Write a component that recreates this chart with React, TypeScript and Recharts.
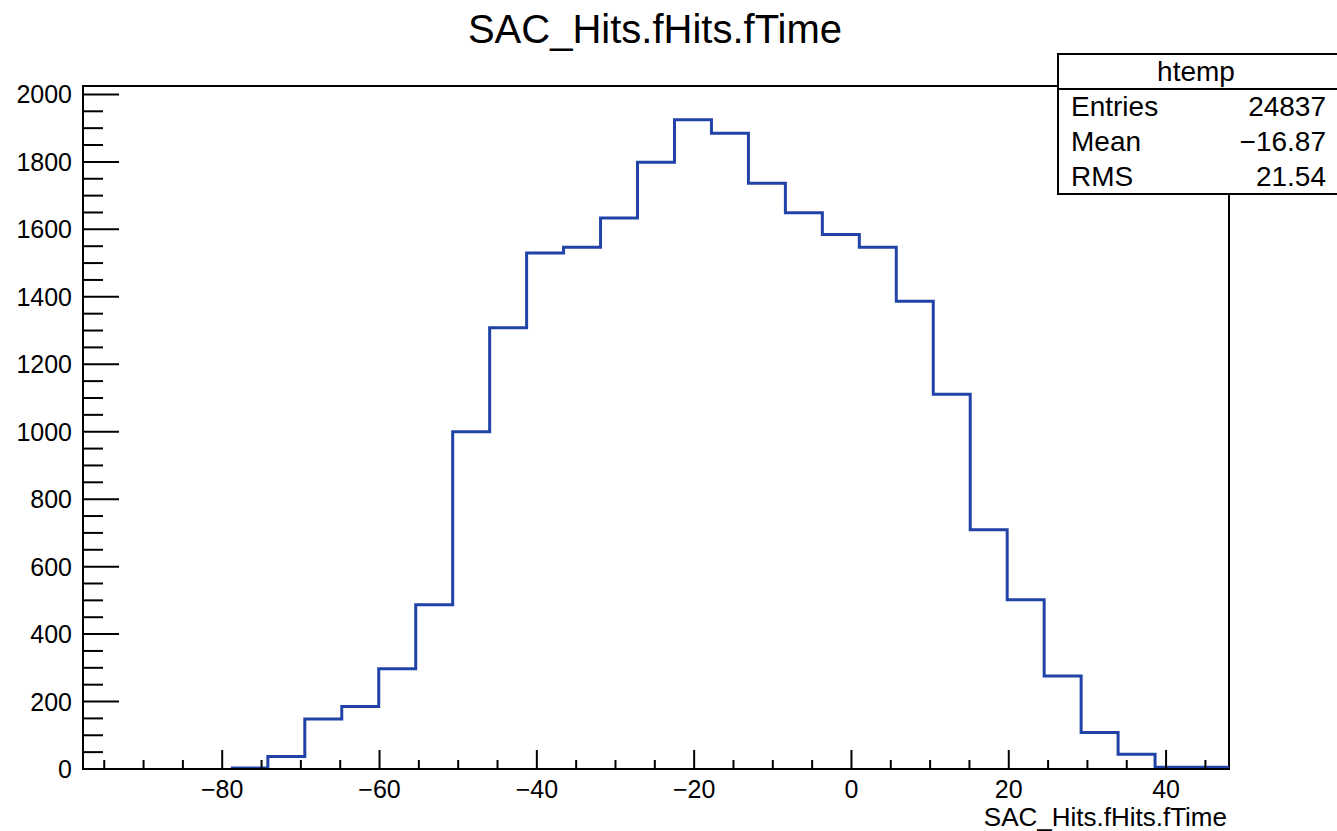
import React from 'react';
import { LineChart, Line, XAxis, YAxis, ReferenceArea } from 'recharts';

// histogram bins (lower edges + final upper edge)
const binEdges = [
  -78.9, -74.2, -69.5, -64.8, -60.1, -55.4, -50.7, -46.0, -41.3, -36.6, -31.9, -27.2, -22.5, -17.8,
  -13.1, -8.4, -3.7, 1.0, 5.7, 10.4, 15.1, 19.8, 24.5, 29.2, 33.9, 38.6, 43.3, 48.0,
];
const binCounts = [
  3, 37, 148, 185, 297, 487, 1000, 1308, 1530, 1547, 1634, 1799, 1925, 1885, 1737, 1649, 1585, 1547,
  1387, 1111, 709, 502, 276, 108, 44, 5, 5,
];

const xTicks = [
  -95, -90, -85, -80, -75, -70, -65, -60, -55, -50, -45, -40, -35, -30, -25, -20, -15, -10, -5, 0, 5,
  10, 15, 20, 25, 30, 35, 40, 45,
];
const yTicks = [
  0, 50, 100, 150, 200, 250, 300, 350, 400, 450, 500, 550, 600, 650, 700, 750, 800, 850, 900, 950,
  1000, 1050, 1100, 1150, 1200, 1250, 1300, 1350, 1400, 1450, 1500, 1550, 1600, 1650, 1700, 1750,
  1800, 1850, 1900, 1950, 2000,
];

const statLabels = ['Entries', 'Mean', 'RMS'];
const statValues = ['24837', '\u221216.87', '21.54'];

const title = 'SAC_Hits.fHits.fTime';
const histName = 'htemp';

const X_MIN = -97.7;
const X_MAX = 48;
const Y_MAX = 2025;

const FONT = '"Liberation Sans", Arial, Helvetica, sans-serif';

const data = binEdges.map((x, i) => ({
  x,
  count: binCounts[Math.min(i, binCounts.length - 1)],
}));

const fmt = (v: number) => (v < 0 ? `\u2212${Math.abs(v)}` : String(v));

const XTick = (props: any) => {
  const { x, y, payload } = props;
  const v = payload.value;
  const major = v % 20 === 0;
  return (
    <g>
      <line x1={x} x2={x} y1={y} y2={y - (major ? 19 : 9)} stroke="#000" strokeWidth={2} />
      {major && (
        <text x={x} y={y + 29} textAnchor="middle" fontSize={25} fontFamily={FONT} fill="#000">
          {fmt(v)}
        </text>
      )}
    </g>
  );
};

const YTick = (props: any) => {
  const { x, y, payload } = props;
  const v = payload.value;
  const major = v % 200 === 0;
  return (
    <g>
      <line x1={x} x2={x + (major ? 36 : 20)} y1={y} y2={y} stroke="#000" strokeWidth={2} />
      {major && (
        <text x={x - 11} y={y + 9} textAnchor="end" fontSize={25} fontFamily={FONT} fill="#000">
          {v}
        </text>
      )}
    </g>
  );
};

export default function App() {
  return (
    <div style={{ position: 'relative', width: 1337, height: 831, overflow: 'hidden', background: '#fff' }}>
      <style>{'body{margin:0}'}</style>
      <LineChart
        width={1337}
        height={831}
        data={data}
        margin={{ top: 86, right: 108, bottom: 0, left: 0 }}
      >
        <XAxis
          dataKey="x"
          type="number"
          domain={[X_MIN, X_MAX]}
          allowDataOverflow
          ticks={xTicks}
          interval={0}
          height={62}
          tickSize={0}
          tickMargin={0}
          tickLine={false}
          axisLine={{ stroke: '#000', strokeWidth: 2 }}
          tick={<XTick />}
        />
        <YAxis
          type="number"
          domain={[0, Y_MAX]}
          allowDataOverflow
          ticks={yTicks}
          interval={0}
          width={83}
          tickSize={0}
          tickMargin={0}
          tickLine={false}
          axisLine={{ stroke: '#000', strokeWidth: 2 }}
          tick={<YTick />}
        />
        <ReferenceArea
          x1={X_MIN}
          x2={X_MAX}
          y1={0}
          y2={Y_MAX}
          fill="none"
          fillOpacity={0}
          stroke="#000"
          strokeWidth={2}
        />
        <Line
          type="stepAfter"
          dataKey="count"
          stroke="#2143a8"
          strokeWidth={3}
          dot={false}
          activeDot={false}
          isAnimationActive={false}
        />
      </LineChart>
      <svg
        width={1337}
        height={831}
        style={{ position: 'absolute', left: 0, top: 0, pointerEvents: 'none' }}
        fontFamily={FONT}
      >
        <text x={655} y={43} textAnchor="middle" fontSize={40} fill="#000">
          {title}
        </text>
        <text x={1227} y={826} textAnchor="end" fontSize={26} fill="#000">
          {title}
        </text>
        <rect x={1058} y={54} width={300} height={140} fill="#fff" stroke="#000" strokeWidth={2} />
        <line x1={1058} x2={1337} y1={89} y2={89} stroke="#000" strokeWidth={2} />
        <text x={1196} y={81} textAnchor="middle" fontSize={28} fill="#000">
          {histName}
        </text>
        {statLabels.map((label, i) => (
          <g key={label}>
            <text x={1071} y={116 + i * 35} fontSize={28} fill="#000">
              {label}
            </text>
            <text x={1326} y={116 + i * 35} textAnchor="end" fontSize={28} fill="#000">
              {statValues[i]}
            </text>
          </g>
        ))}
      </svg>
    </div>
  );
}
